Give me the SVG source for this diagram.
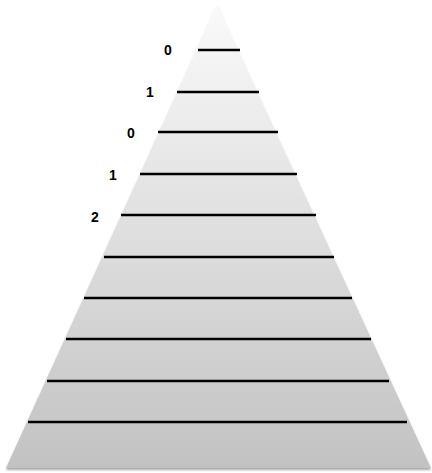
<svg xmlns="http://www.w3.org/2000/svg" width="432" height="473" viewBox="0 0 432 473">
<defs>
<linearGradient id="g" x1="0" y1="5" x2="0" y2="469" gradientUnits="userSpaceOnUse">
<stop offset="0" stop-color="#fafafa"/>
<stop offset="1" stop-color="#c2c2c2"/>
</linearGradient>
<filter id="sh" x="-5%" y="-5%" width="110%" height="110%">
<feGaussianBlur in="SourceAlpha" stdDeviation="1"/>
<feOffset dy="1.5"/>
<feComponentTransfer><feFuncA type="linear" slope="0.35"/></feComponentTransfer>
<feMerge><feMergeNode/><feMergeNode in="SourceGraphic"/></feMerge>
</filter>
<style>
.lv{stroke:#000;stroke-width:2.5;fill:none}
.lb{font-family:"Liberation Sans",Arial,sans-serif;font-weight:bold;font-size:14px;fill:#000;text-anchor:middle}
</style>
</defs>
<g id="pyramid">
<polygon points="217,5 431,468 6,468" fill="url(#g)" filter="url(#sh)"/>
</g>
<g id="levels">
<line class="lv" x1="198" y1="50" x2="240" y2="50"/>
<line class="lv" x1="177" y1="92" x2="259" y2="92"/>
<line class="lv" x1="158" y1="132" x2="278" y2="132"/>
<line class="lv" x1="140" y1="174" x2="297" y2="174"/>
<line class="lv" x1="121" y1="215" x2="316" y2="215"/>
<line class="lv" x1="104" y1="257" x2="334" y2="257"/>
<line class="lv" x1="84" y1="298" x2="352" y2="298"/>
<line class="lv" x1="66" y1="339" x2="371" y2="339"/>
<line class="lv" x1="47" y1="381" x2="389" y2="381"/>
<line class="lv" x1="28" y1="422" x2="407" y2="422"/>
</g>
<g id="labels">
<text class="lb" x="168" y="55">0</text>
<text class="lb" x="150" y="97">1</text>
<text class="lb" x="131" y="138">0</text>
<text class="lb" x="113" y="180">1</text>
<text class="lb" x="95" y="222">2</text>
</g>
</svg>
